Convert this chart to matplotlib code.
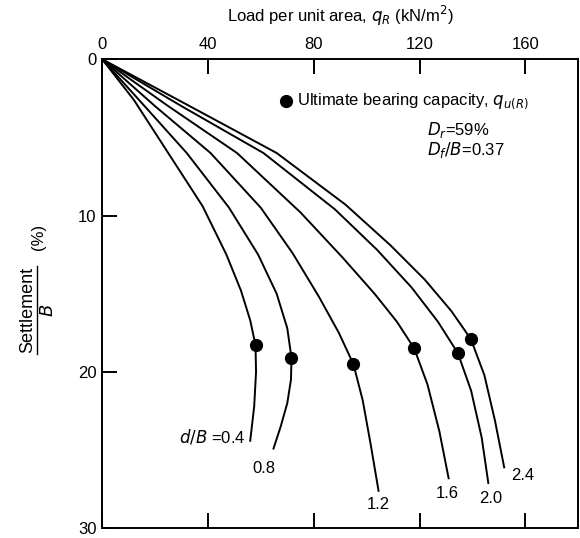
import matplotlib.pyplot as plt

plt.rcParams['font.family'] = ['Liberation Sans', 'DejaVu Sans']

# d/B curves: load (kN/m2) vs settlement/B (%)
labels = ['0.4', '0.8', '1.2', '1.6', '2.0', '2.4']
q04 = [0, 12, 25, 38, 47, 52.5, 56, 58, 58.2, 57.5, 56]
s04 = [0, 2.6, 6, 9.4, 12.5, 14.8, 16.7, 18.3, 20, 22.2, 24.4]
q08 = [0, 15, 32, 48, 59, 66, 70, 71.6, 71.4, 70, 67.5, 64.8]
s08 = [0, 2.8, 6, 9.5, 12.5, 15, 17.2, 19.1, 20.5, 22, 23.5, 24.9]
q12 = [0, 20, 41, 60, 72, 82, 89.5, 95, 98.5, 101.5, 104.5]
s12 = [0, 3, 6, 9.5, 12.4, 15.2, 17.5, 19.5, 21.8, 24.6, 27.6]
q16 = [0, 25, 51, 75, 91, 103, 111.5, 118, 123, 127.5, 131]
s16 = [0, 3, 6, 9.8, 12.7, 15, 16.8, 18.5, 20.8, 23.8, 26.8]
q20 = [0, 30, 61, 88, 104, 117, 127, 134.5, 139.5, 143.5, 146]
s20 = [0, 3, 6, 9.6, 12.2, 14.6, 16.8, 18.8, 21.2, 24.2, 27.1]
q24 = [0, 32, 66, 92, 109, 122, 132, 139.4, 144.5, 148.5, 152]
s24 = [0, 2.9, 6, 9.3, 11.9, 14.1, 16.1, 17.9, 20.2, 23.1, 26.1]

# ultimate bearing capacity points
qu = [58, 71.6, 95, 118, 134.5, 139.4]
su = [18.3, 19.1, 19.5, 18.5, 18.8, 17.9]

curves = [(q04, s04), (q08, s08), (q12, s12), (q16, s16), (q20, s20), (q24, s24)]
# label positions (data coords) at the curve ends
lab_x = [41.5, 61, 104.5, 130.5, 147, 159]
lab_y = [24.1, 26.2, 28.5, 27.8, 28.1, 26.6]

fig = plt.figure(figsize=(5.8, 5.38), dpi=100)
ax = fig.add_axes([0.176, 0.018, 0.821, 0.872])

for (q, s) in curves:
    ax.plot(q, s, color='black', lw=1.4)
ax.plot(qu, su, 'o', color='black', ms=8.5)

for i, lab in enumerate(labels):
    txt = lab
    if i == 0:
        txt = r'$d/B$ =0.4'
    ax.text(lab_x[i], lab_y[i], txt, fontsize=12, ha='center', va='center')

ax.set_xlim(0, 180)
ax.set_ylim(30, 0)
ax.set_xticks([0, 40, 80, 120, 160])
ax.set_yticks([0, 10, 20, 30])
ax.xaxis.set_ticks_position('both')
ax.xaxis.set_label_position('top')
ax.tick_params(axis='x', which='both', direction='in', length=11, width=1.4,
               labeltop=True, labelbottom=False, labelsize=12, pad=5)
ax.tick_params(axis='y', direction='in', length=11, width=1.4, labelsize=12, pad=4)
for sp in ax.spines.values():
    sp.set_linewidth(1.4)

ax.set_xlabel(r'Load per unit area, $q_R$ (kN/m$^2$)', fontsize=12, labelpad=11)

# legend and parameters
ax.plot([69.5], [2.7], 'o', color='black', ms=8.5)
ax.text(73.5, 2.7, r'Ultimate bearing capacity, $q_{u(R)}$', fontsize=12, va='center')
ax.text(123, 4.5, r'$D_r$=59%', fontsize=12, va='center')
ax.text(123, 5.8, r'$D_f/B$=0.37', fontsize=12, va='center')

# y label as fraction
fig.text(0.047, 0.424, 'Settlement', rotation=90, fontsize=13, ha='center', va='center')
fig.text(0.083, 0.424, r'$B$', rotation=90, fontsize=13, ha='center', va='center')
fig.add_artist(plt.Line2D([0.063, 0.063], [0.342, 0.506], color='black', lw=1))
fig.text(0.066, 0.56, '(%)', rotation=90, fontsize=12, ha='center', va='center')

fig.savefig('out.png', dpi=100)
